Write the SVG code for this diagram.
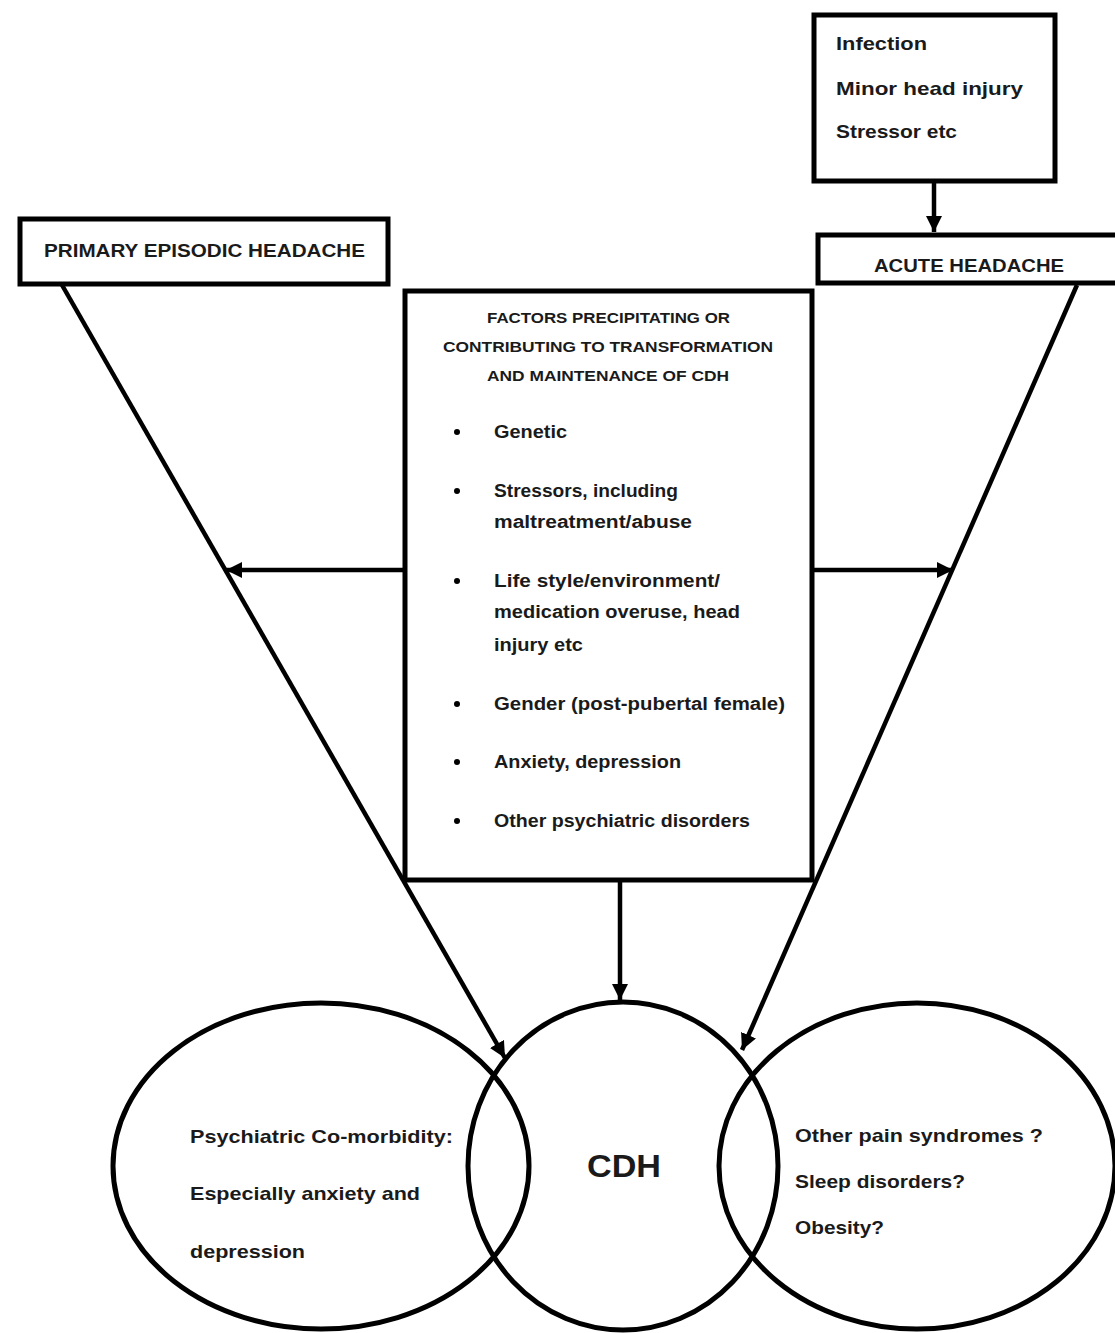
<svg xmlns="http://www.w3.org/2000/svg" width="1115" height="1333" viewBox="0 0 1115 1333">
<style>
.box{fill:#fff;stroke:#000;stroke-width:5}
.ell{fill:none;stroke:#000;stroke-width:5}
.ln{fill:none;stroke:#000;stroke-width:4.5}
text{font-family:"Liberation Sans",Arial,sans-serif;font-weight:bold;fill:#1a1a1a}
.t19{font-size:19px}
.t18{font-size:18px}
.t16{font-size:16px}
.t15{font-size:15px}
.mid{text-anchor:middle}
</style>
<defs>
<marker id="ah" viewBox="0 0 10 10" refX="10" refY="5" markerWidth="3.6" markerHeight="3.6" orient="auto" markerUnits="strokeWidth">
<path d="M0,0 L10,5 L0,10 z" fill="#000"/>
</marker>
</defs>
<rect width="1115" height="1333" fill="#fff"/>

<g id="connectors">
<line class="ln" x1="934" y1="182" x2="934" y2="232" marker-end="url(#ah)"/>
<line class="ln" x1="62" y1="285" x2="505" y2="1058" marker-end="url(#ah)"/>
<line class="ln" x1="1077" y1="285" x2="742" y2="1050" marker-end="url(#ah)"/>
<line class="ln" x1="405" y1="570" x2="226" y2="570" marker-end="url(#ah)"/>
<line class="ln" x1="812" y1="570" x2="953" y2="570" marker-end="url(#ah)"/>
<line class="ln" x1="620" y1="880" x2="620" y2="1000" marker-end="url(#ah)"/>
</g>

<g id="triggers">
<rect class="box" x="814" y="15" width="241" height="166"/>
<text class="t19" x="836" y="50" textLength="91" lengthAdjust="spacingAndGlyphs">Infection</text>
<text class="t19" x="836" y="95" textLength="187" lengthAdjust="spacingAndGlyphs">Minor head injury</text>
<text class="t19" x="836" y="138" textLength="121" lengthAdjust="spacingAndGlyphs">Stressor etc</text>
</g>

<g id="primary">
<rect class="box" x="20" y="219" width="368" height="65"/>
<text class="t18" x="44" y="257" textLength="321" lengthAdjust="spacingAndGlyphs">PRIMARY EPISODIC HEADACHE</text>
</g>

<g id="acute">
<rect class="box" x="818" y="235" width="310" height="48"/>
<text class="t18" x="874" y="272" textLength="190" lengthAdjust="spacingAndGlyphs">ACUTE HEADACHE</text>
</g>

<g id="factors">
<rect class="box" x="405" y="291" width="407" height="589"/>
<text class="t15" x="487" y="323" textLength="243" lengthAdjust="spacingAndGlyphs">FACTORS PRECIPITATING OR</text>
<text class="t15" x="443" y="352" textLength="330" lengthAdjust="spacingAndGlyphs">CONTRIBUTING TO TRANSFORMATION</text>
<text class="t15" x="487" y="381" textLength="242" lengthAdjust="spacingAndGlyphs">AND MAINTENANCE OF CDH</text>
<g fill="#000">
<circle cx="457" cy="432" r="3"/>
<circle cx="457" cy="491" r="3"/>
<circle cx="457" cy="581" r="3"/>
<circle cx="457" cy="704" r="3"/>
<circle cx="457" cy="762" r="3"/>
<circle cx="457" cy="821" r="3"/>
</g>
<text class="t18" x="494" y="438" textLength="73" lengthAdjust="spacingAndGlyphs">Genetic</text>
<text class="t18" x="494" y="497" textLength="184" lengthAdjust="spacingAndGlyphs">Stressors, including</text>
<text class="t18" x="494" y="528" textLength="198" lengthAdjust="spacingAndGlyphs">maltreatment/abuse</text>
<text class="t18" x="494" y="587" textLength="226" lengthAdjust="spacingAndGlyphs">Life style/environment/</text>
<text class="t18" x="494" y="618" textLength="246" lengthAdjust="spacingAndGlyphs">medication overuse, head</text>
<text class="t18" x="494" y="651" textLength="89" lengthAdjust="spacingAndGlyphs">injury etc</text>
<text class="t18" x="494" y="710" textLength="291" lengthAdjust="spacingAndGlyphs">Gender (post-pubertal female)</text>
<text class="t18" x="494" y="768" textLength="187" lengthAdjust="spacingAndGlyphs">Anxiety, depression</text>
<text class="t18" x="494" y="827" textLength="256" lengthAdjust="spacingAndGlyphs">Other psychiatric disorders</text>
</g>

<g id="psychiatric">
<ellipse class="ell" cx="321" cy="1166" rx="208" ry="163"/>
<text class="t19" x="190" y="1143" textLength="263" lengthAdjust="spacingAndGlyphs">Psychiatric Co-morbidity:</text>
<text class="t19" x="190" y="1200" textLength="230" lengthAdjust="spacingAndGlyphs">Especially anxiety and</text>
<text class="t19" x="190" y="1258" textLength="115" lengthAdjust="spacingAndGlyphs">depression</text>
</g>

<g id="cdh">
<ellipse class="ell" cx="623" cy="1166" rx="155" ry="164"/>
<text x="624" y="1177" font-size="32" text-anchor="middle" textLength="74" lengthAdjust="spacingAndGlyphs">CDH</text>
</g>

<g id="other">
<ellipse class="ell" cx="917" cy="1166" rx="198" ry="163"/>
<text class="t19" x="795" y="1142" textLength="248" lengthAdjust="spacingAndGlyphs">Other pain syndromes ?</text>
<text class="t19" x="795" y="1188" textLength="170" lengthAdjust="spacingAndGlyphs">Sleep disorders?</text>
<text class="t19" x="795" y="1234" textLength="89" lengthAdjust="spacingAndGlyphs">Obesity?</text>
</g>
</svg>
